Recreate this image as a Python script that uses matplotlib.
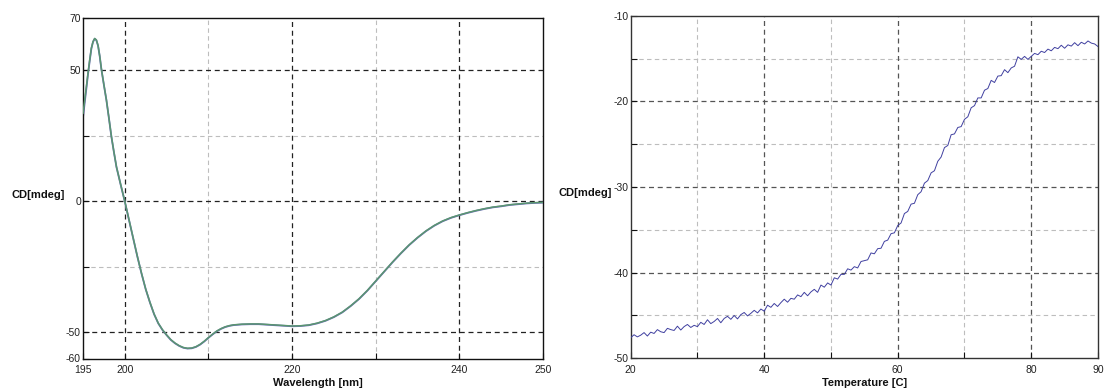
import matplotlib
matplotlib.use("Agg")
import matplotlib.pyplot as plt

plt.rcParams['font.family'] = ['Liberation Sans', 'DejaVu Sans']

# ---------------- Left panel: CD spectrum ----------------
wavelength = [195.0, 195.2, 195.4, 195.6, 195.8, 196.0, 196.2, 196.4, 196.6, 196.8,
              197.0, 197.2, 197.5, 197.8, 198.1, 198.4, 198.7, 199.0, 199.5, 200.0,
              200.5, 201.0, 201.5, 202.0, 202.5, 203.0, 203.5, 204.0, 204.5, 205.0,
              205.5, 206.0, 206.5, 207.0, 207.5, 208.0, 208.5, 209.0, 209.5, 210.0,
              210.5, 211.0, 211.5, 212.0, 212.5, 213.0, 214.0, 215.0, 216.0, 217.0,
              218.0, 219.0, 220.0, 221.0, 222.0, 223.0, 224.0, 225.0, 226.0, 227.0,
              228.0, 229.0, 230.0, 231.0, 232.0, 233.0, 234.0, 235.0, 236.0, 237.0,
              238.0, 239.0, 240.0, 241.0, 242.0, 243.0, 244.0, 245.0, 246.0, 247.0,
              248.0, 249.0, 250.0]
cd_run1 = [33.6, 38.5, 43.7, 49.0, 53.9, 58.5, 61.0, 62.2, 61.6, 59.5,
           55.5, 50.5, 44.5, 38.7, 31.8, 24.7, 18.8, 13.2, 6.5, 0.0,
           -7.0, -14.0, -21.0, -27.5, -33.5, -38.5, -43.0, -46.5, -49.0, -51.0,
           -52.8, -54.1, -55.1, -55.8, -56.1, -56.0, -55.5, -54.6, -53.4, -52.0,
           -50.7, -49.5, -48.6, -47.9, -47.45, -47.15, -46.9, -46.8, -46.8, -47.0,
           -47.2, -47.4, -47.6, -47.5, -47.2, -46.5, -45.5, -44.1, -42.3, -39.9,
           -37.2, -34.0, -30.4, -26.8, -23.2, -19.8, -16.6, -13.8, -11.3, -9.2,
           -7.5, -6.2, -5.2, -4.3, -3.5, -2.8, -2.2, -1.8, -1.3, -1.0,
           -0.7, -0.5, -0.4]
cd_run2 = [32.0, 37.6, 43.0, 48.6, 53.6, 58.3, 60.9, 62.1, 61.5, 59.4,
           55.4, 50.4, 44.4, 38.6, 31.7, 24.6, 18.7, 13.1, 6.4, -0.1,
           -7.1, -14.1, -21.1, -27.6, -33.6, -38.6, -43.1, -46.6, -49.1, -51.1,
           -52.9, -54.2, -55.2, -55.9, -56.2, -56.1, -55.6, -54.7, -53.5, -52.1,
           -50.8, -49.6, -48.7, -48.0, -47.55, -47.25, -47.0, -46.9, -46.9, -47.1,
           -47.3, -47.5, -47.7, -47.6, -47.3, -46.6, -45.6, -44.2, -42.4, -40.0,
           -37.3, -34.1, -30.5, -26.9, -23.3, -19.9, -16.7, -13.9, -11.4, -9.3,
           -7.6, -6.3, -5.3, -4.4, -3.6, -2.9, -2.3, -1.9, -1.4, -1.1,
           -0.8, -0.6, -0.5]

left_xlim = (195, 250)
left_ylim = (-60, 70)
left_xticks = [195, 200, 220, 240, 250]
left_xminor = [210, 230]
left_yticks = [-60, -50, 0, 50, 70]
left_yminor = [-25, 25]
left_xgrid_major = [200, 220, 240]
left_ygrid_major = [-50, 0, 50]

# ---------------- Right panel: thermal melt ----------------
temperature = [20.0 + 0.5 * i for i in range(141)]
cd_melt = [-47.6, -47.25, -47.5, -47.3, -47.0, -47.4, -46.95, -47.1, -46.65, -46.9,
           -47.0, -46.5, -46.65, -46.75, -46.25, -46.7, -46.3, -46.05, -46.4, -46.15,
           -46.3, -45.8, -46.05, -45.5, -45.95, -45.7, -45.35, -45.85, -45.35, -45.1,
           -45.45, -45.0, -45.4, -44.9, -44.65, -45.05, -44.75, -44.4, -44.7, -44.25,
           -44.5, -43.8, -44.05, -43.6, -43.95, -43.5, -43.1, -43.45, -43.0, -43.1,
           -42.6, -42.8, -42.3, -42.7, -42.25, -41.95, -42.3, -41.45, -41.7, -41.2,
           -41.45, -40.6, -40.75, -40.2, -40.2, -39.55, -39.7, -39.3, -39.45, -38.7,
           -38.6, -38.5, -37.7, -37.8, -37.2, -37.15, -36.35, -36.2, -35.45, -35.35,
           -34.5, -34.2, -33.1, -32.85, -32.0, -31.9, -30.9, -30.55, -29.55, -29.25,
           -28.35, -28.1, -27.0, -26.5, -25.4, -25.15, -23.9, -23.8, -23.05, -22.95,
           -22.1, -21.8, -20.75, -20.5, -19.6, -19.6, -18.7, -18.5, -17.55, -17.8,
           -17.05, -17.0, -16.3, -16.65, -16.1, -15.9, -14.8, -15.1, -14.75, -15.1,
           -14.75, -14.4, -14.55, -14.15, -14.3, -13.9, -14.1, -13.7, -13.85, -13.45,
           -13.8, -13.4, -13.55, -13.15, -13.5, -13.1, -13.3, -12.95, -13.2, -13.3,
           -13.6]

right_xlim = (20, 90)
right_ylim = (-50, -10)
right_xticks = [20, 40, 60, 80, 90]
right_xminor = [30, 50, 70]
right_yticks = [-50, -40, -30, -20, -10]
right_yminor = [-45, -35, -25, -15]
right_xgrid_major = [40, 60, 80]
right_ygrid_major = [-40, -30, -20]

W, H = 1105, 391
fig = plt.figure(figsize=(W / 100, H / 100), dpi=100)

def px_axes(x0, y0, x1, y1):
    return fig.add_axes([x0 / W, 1 - y1 / H, (x1 - x0) / W, (y1 - y0) / H])

def style_axes(ax, xlim, ylim, xt, xm, yt, ym, xgm, ygm, major_col, spine_col):
    ax.set_xlim(*xlim)
    ax.set_ylim(*ylim)
    ax.set_xticks(xt)
    ax.set_xticks(xm, minor=True)
    ax.set_yticks(yt)
    ax.set_yticks(ym, minor=True)
    ax.set_xticklabels([str(v) for v in xt])
    ax.set_yticklabels([str(v) for v in yt])
    ax.tick_params(which='both', direction='in', length=4, width=0.8, colors='#111111')
    ax.tick_params(axis='x', which='major', pad=5, labelsize=7.5, labelcolor='#222222')
    ax.tick_params(axis='y', which='major', pad=1.5, labelsize=7.5, labelcolor='#222222')
    for s in ax.spines.values():
        s.set_color(spine_col)
        s.set_linewidth(1.0)
    for v in xm:
        ax.axvline(v, color='#bdbdbd', lw=0.8, ls=(0, (4, 3)), zorder=0)
    for v in ym:
        ax.axhline(v, color='#bdbdbd', lw=0.8, ls=(0, (4, 3)), zorder=0)
    for v in xgm:
        ax.axvline(v, color=major_col, lw=0.9, ls=(0, (4, 3)), zorder=0)
    for v in ygm:
        ax.axhline(v, color=major_col, lw=0.9, ls=(0, (4, 3)), zorder=0)

ax1 = px_axes(83, 18, 543, 358.5)
style_axes(ax1, left_xlim, left_ylim, left_xticks, left_xminor, left_yticks, left_yminor,
           left_xgrid_major, left_ygrid_major, '#222222', '#111111')
ax1.plot(wavelength, cd_run2, color='#6b6bb8', lw=1.3, zorder=2)
ax1.plot(wavelength, cd_run1, color='#5a9670', lw=1.1, zorder=3)

ax2 = px_axes(630.7, 15.7, 1098, 358.3)
style_axes(ax2, right_xlim, right_ylim, right_xticks, right_xminor, right_yticks, right_yminor,
           right_xgrid_major, right_ygrid_major, '#555555', '#333333')
ax2.plot(temperature, cd_melt, color='#4040a0', lw=0.7, zorder=3)

fig.text(65 / W, 1 - 195 / H, 'CD[mdeg]', ha='right', va='center', fontsize=8,
         fontweight='bold', color='#111111')
fig.text(612 / W, 1 - 193 / H, 'CD[mdeg]', ha='right', va='center', fontsize=8,
         fontweight='bold', color='#111111')
fig.text(318 / W, 1 - 382.5 / H, 'Wavelength [nm]', ha='center', va='center', fontsize=8,
         fontweight='bold', color='#111111')
fig.text(865 / W, 1 - 382.5 / H, 'Temperature [C]', ha='center', va='center', fontsize=8,
         fontweight='bold', color='#111111')

fig.savefig('out.png', dpi=100)
